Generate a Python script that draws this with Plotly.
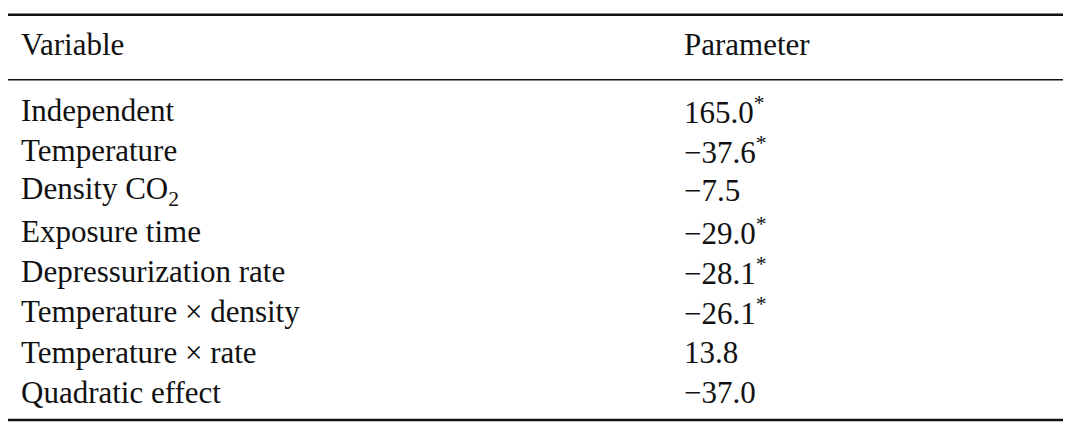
import plotly.graph_objects as go

header = ["Variable", "Parameter"]
variables = ["Independent", "Temperature", "Density CO<sub>2</sub>", "Exposure time",
             "Depressurization rate", "Temperature × density", "Temperature × rate", "Quadratic effect"]
params = [165.0, -37.6, -7.5, -29.0, -28.1, -26.1, 13.8, -37.0]
significant = [True, True, False, True, True, True, False, False]

W, H = 1071, 433
M = 8  # page body margin
FONT = dict(family="Liberation Serif, Times New Roman, serif", size=31, color="#111")

fig = go.Figure()
ann = []
x0, x1 = 19, 682
ann.append(dict(x=x0, y=37, text=header[0]))
ann.append(dict(x=x1, y=37, text=header[1]))
for i, (v, p, s) in enumerate(zip(variables, params, significant)):
    y = 104 + i * 41.1
    ptxt = f"{p:.1f}".replace("-", "−") + ("<sup>*</sup>" if s else "")
    ann.append(dict(x=x0, y=y, text=v))
    ann.append(dict(x=x1, y=y, text=ptxt))
for a in ann:
    a.update(xref="x", yref="y", xanchor="left", yanchor="middle", showarrow=False, font=FONT)

shapes = [
    dict(type="line", x0=0, x1=W, y0=7, y1=7, line=dict(color="#111", width=2.5)),
    dict(type="line", x0=0, x1=W, y0=73, y1=73, line=dict(color="#111", width=1.5)),
    dict(type="line", x0=0, x1=W, y0=420, y1=420, line=dict(color="#111", width=2.5)),
]
for s in shapes:
    s.update(xref="x", yref="y")

fig.update_layout(
    width=W - 2 * M, height=H - 2 * M, margin=dict(l=0, r=0, t=0, b=0),
    paper_bgcolor="white", plot_bgcolor="white",
    xaxis=dict(range=[M, W - M], visible=False, fixedrange=True),
    yaxis=dict(range=[H - M, M - 8], visible=False, fixedrange=True),
    annotations=ann, shapes=shapes, showlegend=False,
)
fig.write_html("out.html")
